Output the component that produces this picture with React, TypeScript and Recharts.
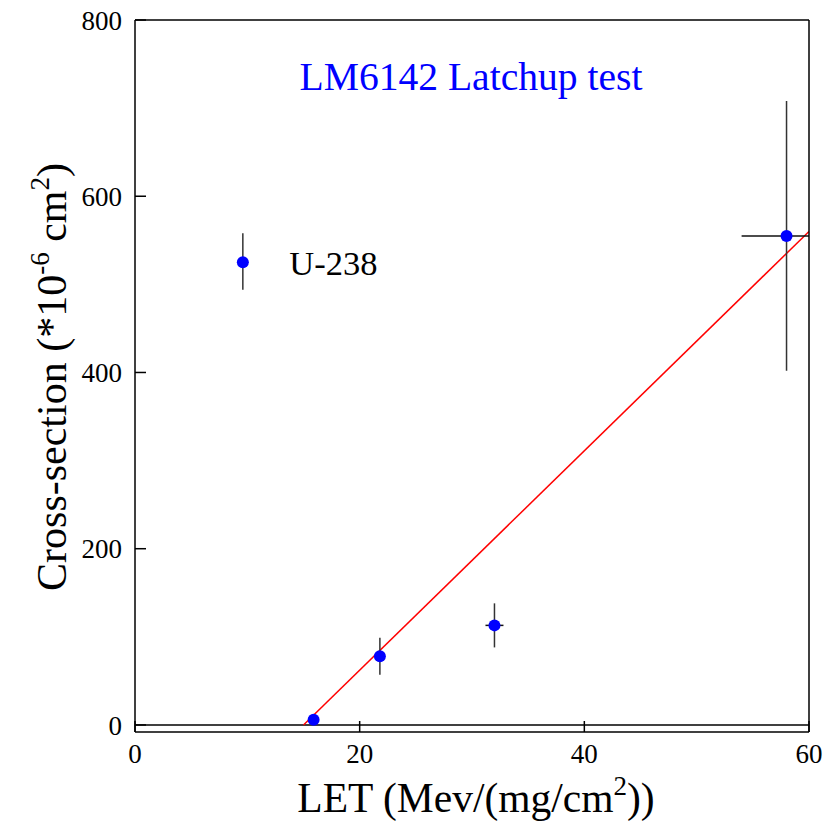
import { ComposedChart, ErrorBar, LabelList, Line, ReferenceLine, Scatter, XAxis, YAxis } from 'recharts';

const FONT = '"Liberation Serif", "Times New Roman", serif';

// measured points (LET, cross-section in 1e-6 cm^2)
const letValues = [15.9, 21.8, 32.0, 58.0];
const crossSections = [6, 78, 113, 555];
const crossSectionErrors = [[3, 3], [21, 21], [25, 25], [153, 153]];
const letErrors = [[0, 0], [0, 0], [0.8, 0.8], [4, 2]];

// legend sample
const legendLet = [9.6];
const legendCross = [525];
const legendErrors = [[31, 33]];
const legendNames = ['U-238'];

// linear fit
const fitLet = [15, 60];
const fitCross = [0, 560];

const xTicks = [0, 20, 40, 60];
const yTicks = [0, 200, 400, 600, 800];

const points = letValues.map((x, i) => ({
  x,
  y: crossSections[i],
  ey: crossSectionErrors[i],
  ex: letErrors[i],
}));

const legendPoints = legendLet.map((x, i) => ({
  x,
  y: legendCross[i],
  ey: legendErrors[i],
  name: legendNames[i],
}));

const fitData = fitLet.map((x, i) => ({ x, y: fitCross[i] }));

const tickStyle = { fill: '#000', fontSize: 27, fontFamily: FONT };
const axisLine = { stroke: '#000', strokeWidth: 1.5 };

function Dot(props: any) {
  return <circle cx={props.cx} cy={props.cy} r={6} fill="#0000ff" />;
}

function TitleLabel({ viewBox }: any) {
  return (
    <text x={viewBox.x + viewBox.width / 2 - 1} y={90} textAnchor="middle" fill="#0000ff" fontSize={39.6} style={{ fontFamily: FONT }}>
      LM6142 Latchup test
    </text>
  );
}

function XLabel({ viewBox }: any) {
  return (
    <text x={viewBox.x + viewBox.width / 2 + 4} y={812} textAnchor="middle" fill="#000" fontSize={41.5} style={{ fontFamily: FONT }}>
      LET (Mev/(mg/cm<tspan dy={-17} fontSize={27}>2</tspan>
      <tspan dy={17}>))</tspan>
    </text>
  );
}

function YLabel({ viewBox }: any) {
  const cy = viewBox.y + viewBox.height / 2 + 1;
  return (
    <text transform={`translate(66,${cy}) rotate(-90)`} textAnchor="middle" fill="#000" fontSize={42} style={{ fontFamily: FONT }}>
      Cross-section (*10<tspan dy={-17} fontSize={27}>-6</tspan>
      <tspan dy={17}> cm</tspan>
      <tspan dy={-17} fontSize={27}>2</tspan>
      <tspan dy={17}>)</tspan>
    </text>
  );
}

export default function App() {
  return (
    <div style={{ position: 'absolute', left: 0, top: 0, background: '#fff', fontFamily: FONT }}>
      <style>{`.recharts-wrapper text { font-family: ${FONT}; }`}</style>
      <ComposedChart width={826} height={823} margin={{ top: 19, right: 16, bottom: 0, left: 0 }}>
        <XAxis
          type="number"
          dataKey="x"
          domain={[0, 60]}
          ticks={xTicks}
          allowDataOverflow
          height={91}
          axisLine={axisLine}
          tickLine={axisLine}
          tickSize={-11}
          tickMargin={23}
          tick={tickStyle}
          label={{ content: XLabel }}
        />
        <XAxis
          xAxisId="top"
          orientation="top"
          type="number"
          dataKey="x"
          domain={[0, 60]}
          allowDataOverflow
          height={1}
          axisLine={axisLine}
          tick={false}
          tickLine={false}
          label={{ content: TitleLabel }}
        />
        <YAxis
          type="number"
          domain={[-8, 800]}
          ticks={yTicks}
          allowDataOverflow
          width={135}
          axisLine={axisLine}
          tickLine={axisLine}
          tickSize={-11}
          tickMargin={24}
          tick={tickStyle}
          label={{ content: YLabel }}
        />
        <YAxis
          yAxisId="right"
          orientation="right"
          type="number"
          domain={[-8, 800]}
          allowDataOverflow
          width={1}
          axisLine={axisLine}
          tick={false}
          tickLine={false}
        />
        <ReferenceLine y={0} stroke="#000" strokeWidth={1.5} />
        <Line
          xAxisId="top"
          yAxisId="right"
          data={fitData}
          dataKey="y"
          stroke="#ff0000"
          strokeWidth={1.5}
          dot={false}
          isAnimationActive={false}
        />
        <Scatter data={points} dataKey="y" fill="#0000ff" shape={Dot} isAnimationActive={false}>
          <ErrorBar dataKey="ey" direction="y" width={0} stroke="#333" strokeWidth={1.5} />
          <ErrorBar dataKey="ex" direction="x" width={0} stroke="#111" strokeWidth={1.5} />
        </Scatter>
        <Scatter data={legendPoints} dataKey="y" fill="#0000ff" shape={Dot} isAnimationActive={false}>
          <ErrorBar dataKey="ey" direction="y" width={0} stroke="#333" strokeWidth={1.5} />
          <LabelList dataKey="name" position="right" offset={42} fill="#000" fontSize={34.5} />
        </Scatter>
      </ComposedChart>
    </div>
  );
}
